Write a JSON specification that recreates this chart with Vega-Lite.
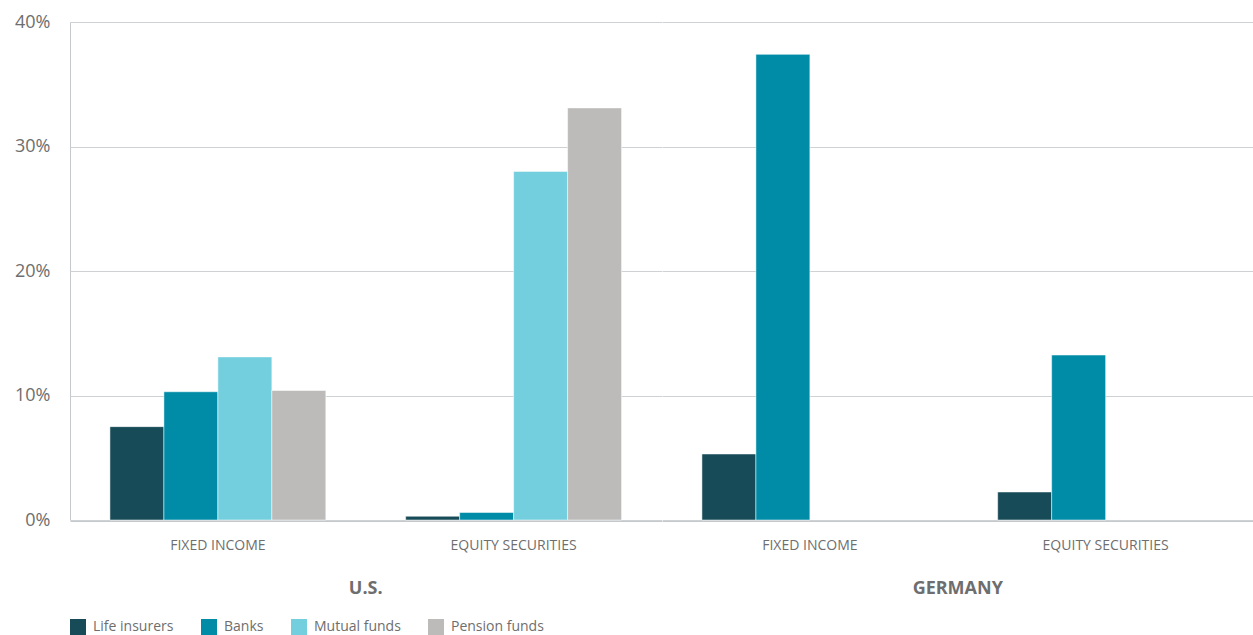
{
  "$schema": "https://vega.github.io/schema/vega-lite/v6.json",
  "padding": {"left": 14, "top": 13, "right": 0, "bottom": 0},
  "background": "white",
  "config": {
    "font": "Open Sans",
    "view": {"stroke": null, "strokeWidth": 0},
    "style": {"cell": {"stroke": null, "strokeWidth": 0}},
    "axis": {"labelColor": "#6e6e6e", "domainColor": "#c5c9cc", "gridColor": "#cfd2d4", "ticks": false, "title": null}
  },
  "data": {
    "values": [
      {"country": "U.S.", "type": "FIXED INCOME", "investor": "Life insurers", "value": 7.5},
      {"country": "U.S.", "type": "FIXED INCOME", "investor": "Banks", "value": 10.3},
      {"country": "U.S.", "type": "FIXED INCOME", "investor": "Mutual funds", "value": 13.1},
      {"country": "U.S.", "type": "FIXED INCOME", "investor": "Pension funds", "value": 10.4},
      {"country": "U.S.", "type": "EQUITY SECURITIES", "investor": "Life insurers", "value": 0.3},
      {"country": "U.S.", "type": "EQUITY SECURITIES", "investor": "Banks", "value": 0.6},
      {"country": "U.S.", "type": "EQUITY SECURITIES", "investor": "Mutual funds", "value": 28.0},
      {"country": "U.S.", "type": "EQUITY SECURITIES", "investor": "Pension funds", "value": 33.1},
      {"country": "GERMANY", "type": "FIXED INCOME", "investor": "Life insurers", "value": 5.3},
      {"country": "GERMANY", "type": "FIXED INCOME", "investor": "Banks", "value": 37.4},
      {"country": "GERMANY", "type": "EQUITY SECURITIES", "investor": "Life insurers", "value": 2.25},
      {"country": "GERMANY", "type": "EQUITY SECURITIES", "investor": "Banks", "value": 13.25}
    ]
  },
  "facet": {
    "column": {
      "field": "country",
      "type": "nominal",
      "sort": ["U.S.", "GERMANY"],
      "title": null,
      "header": {"labelOrient": "bottom", "labelFontSize": 18, "labelFontWeight": "bold", "labelColor": "#6e6e6e", "labelPadding": 28, "labelFont": "Open Sans"}
    }
  },
  "spacing": 0,
  "spec": {
    "width": 591.5,
    "height": 498,
    "mark": {"type": "bar", "stroke": "white", "strokeWidth": 0.5},
    "encoding": {
      "x": {
        "field": "type",
        "type": "nominal",
        "sort": ["FIXED INCOME", "EQUITY SECURITIES"],
        "scale": {"paddingInner": 0.27, "paddingOuter": 0.135},
        "axis": {"labelAngle": 0, "labelFontSize": 14, "labelPadding": 17, "domainWidth": 1}
      },
      "xOffset": {
        "field": "investor",
        "type": "nominal",
        "sort": ["Life insurers", "Banks", "Mutual funds", "Pension funds"],
        "scale": {"domain": ["Life insurers", "Banks", "Mutual funds", "Pension funds"], "paddingInner": 0, "paddingOuter": 0}
      },
      "y": {
        "field": "value",
        "type": "quantitative",
        "scale": {"domain": [0, 40], "nice": false},
        "axis": {"values": [0, 10, 20, 30, 40], "labelExpr": "datum.value + '%'", "labelFontSize": 18, "labelPadding": 20}
      },
      "color": {
        "field": "investor",
        "type": "nominal",
        "sort": ["Life insurers", "Banks", "Mutual funds", "Pension funds"],
        "scale": {"domain": ["Life insurers", "Banks", "Mutual funds", "Pension funds"], "range": ["#174b57", "#008ca7", "#73cedd", "#bcbbba"]},
        "legend": {"title": null, "orient": "bottom", "direction": "horizontal", "symbolType": "square", "symbolSize": 256, "symbolStrokeWidth": 0, "labelFontSize": 14, "labelColor": "#6e6e6e", "labelOffset": 7, "columnPadding": 27, "offset": 21}
      }
    }
  }
}
